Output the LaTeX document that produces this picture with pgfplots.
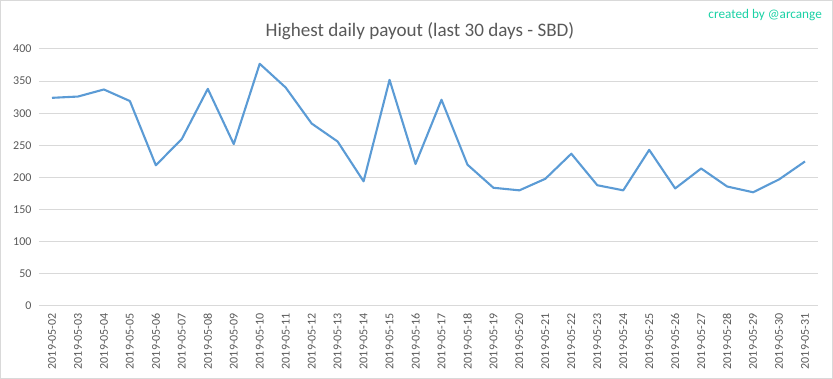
\documentclass[border=0pt]{standalone}
\usepackage{pgfplots}
\pgfplotsset{compat=1.18}
\usepackage{fontspec}
\setmainfont{Carlito}
\definecolor{linec}{HTML}{5B9BD5}
\definecolor{gridc}{HTML}{D9D9D9}
\definecolor{textc}{HTML}{595959}
\definecolor{credc}{HTML}{1AD1A5}
\begin{document}
\begin{tikzpicture}[x=1pt,y=1pt]
\draw[gridc, line width=1pt] (0.5,0.5) rectangle (832.5,378.5);
\begin{axis}[
  at={(39pt,73pt)}, anchor=south west,
  scale only axis, width=779pt, height=257pt,
  xmin=-0.5, xmax=29.5, ymin=0, ymax=400,
  ytick={0,50,...,400},
  xtick={0,...,29},
  xticklabels={2019-05-02,2019-05-03,2019-05-04,2019-05-05,2019-05-06,2019-05-07,2019-05-08,2019-05-09,2019-05-10,2019-05-11,2019-05-12,2019-05-13,2019-05-14,2019-05-15,2019-05-16,2019-05-17,2019-05-18,2019-05-19,2019-05-20,2019-05-21,2019-05-22,2019-05-23,2019-05-24,2019-05-25,2019-05-26,2019-05-27,2019-05-28,2019-05-29,2019-05-30,2019-05-31},
  x tick label style={rotate=90, anchor=east, font=\fontsize{12}{12}\selectfont, text=textc, inner sep=1pt, xshift=0pt},
  y tick label style={font=\fontsize{12}{12}\selectfont, text=textc},
  /pgf/number format/assume math mode=true,
  axis line style={draw=none},
  axis x line*=bottom,
  x axis line style={draw=gridc, line width=1pt},
  ymajorgrids, grid style={gridc, line width=1pt},
  major tick length=0pt,
  xticklabel shift=6pt,
  yticklabel shift=4pt,
  clip=false,
]
\addplot[linec, line width=2.1pt, line join=round] coordinates {
(0,324) (1,326) (2,337) (3,319) (4,219) (5,260) (6,338) (7,252) (8,377) (9,340)
(10,284) (11,256) (12,194) (13,352) (14,221) (15,321) (16,220) (17,184) (18,180) (19,198)
(20,237) (21,188) (22,180) (23,243) (24,183) (25,214) (26,186) (27,177) (28,197) (29,225)
};
\end{axis}
\node[anchor=base, text=textc, font=\fontsize{19.1}{19.1}\selectfont] at (420,342) {Highest daily payout (last 30 days - SBD)};
\node[anchor=base east, text=credc, font=\fontsize{13.2}{13.2}\selectfont, inner sep=0pt] at (822,360) {created by @arcange};
\end{tikzpicture}
\end{document}
